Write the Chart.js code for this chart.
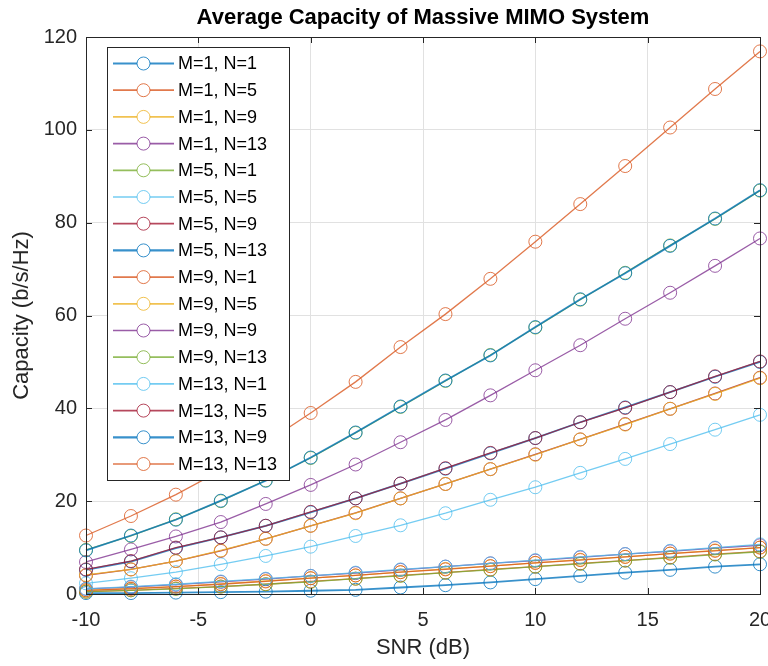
<!DOCTYPE html>
<html>
<head>
<meta charset="utf-8">
<title>Average Capacity of Massive MIMO System</title>
<script src="https://cdn.jsdelivr.net/npm/chart.js@4.4.1/dist/chart.umd.min.js"></script>
<style>
  html, body { margin: 0; padding: 0; background: #fff; }
  #wrap { width: 768px; height: 666px; }
</style>
</head>
<body>
<div id="wrap"><canvas id="capChart" width="768" height="666"></canvas></div>
<script>
// ── Data ───────────────────────────────────────────────────────
const snrDb = [-10, -8, -6, -4, -2, 0, 2, 4, 6, 8, 10, 12, 14, 16, 18, 20];

const seriesLabels = [
  'M=1, N=1', 'M=1, N=5', 'M=1, N=9', 'M=1, N=13',
  'M=5, N=1', 'M=5, N=5', 'M=5, N=9', 'M=5, N=13',
  'M=9, N=1', 'M=9, N=5', 'M=9, N=9', 'M=9, N=13',
  'M=13, N=1', 'M=13, N=5', 'M=13, N=9', 'M=13, N=13',
];

// capacity in b/s/Hz, one array per antenna configuration
const capM1N1   = [0.2, 0.2, 0.3, 0.4, 0.5, 0.7, 0.9, 1.4, 1.9, 2.5, 3.2, 3.9, 4.6, 5.2, 5.9, 6.4];
const capM1N5   = [0.5, 0.8, 1.2, 1.6, 2.1, 2.7, 3.3, 4.0, 4.6, 5.3, 5.9, 6.6, 7.2, 7.9, 8.6, 9.2];
const capM1N9   = [0.8, 1.2, 1.6, 2.2, 2.8, 3.4, 4.0, 4.7, 5.4, 6.0, 6.7, 7.4, 8.0, 8.7, 9.4, 10.0];
const capM1N13  = [1.1, 1.5, 2.0, 2.6, 3.2, 3.9, 4.5, 5.2, 5.9, 6.6, 7.2, 7.9, 8.6, 9.2, 9.9, 10.5];
const capM5N1   = [0.5, 0.8, 1.1, 1.6, 2.1, 2.6, 3.3, 3.9, 4.6, 5.2, 5.9, 6.5, 7.2, 7.8, 8.5, 9.1];
const capM5N5   = [2.3, 3.4, 4.7, 6.4, 8.2, 10.2, 12.5, 14.8, 17.4, 20.3, 23.0, 26.1, 29.1, 32.3, 35.4, 38.6];
const capM5N9   = [4.0, 5.3, 7.1, 9.3, 11.9, 14.7, 17.5, 20.6, 23.7, 26.9, 30.1, 33.3, 36.6, 39.9, 43.2, 46.6];
const capM5N13  = [5.2, 7.0, 9.9, 12.2, 14.7, 17.6, 20.6, 23.8, 27.0, 30.3, 33.6, 37.0, 40.2, 43.5, 46.8, 50.0];
const capM9N1   = [0.8, 1.1, 1.6, 2.1, 2.7, 3.4, 4.0, 4.7, 5.3, 6.0, 6.7, 7.3, 8.0, 8.7, 9.3, 10.0];
const capM9N5   = [4.1, 5.3, 7.1, 9.4, 11.9, 14.7, 17.4, 20.6, 23.7, 26.9, 30.0, 33.3, 36.5, 39.9, 43.1, 46.5];
const capM9N9   = [6.9, 9.6, 12.4, 15.5, 19.4, 23.5, 27.9, 32.7, 37.5, 42.8, 48.2, 53.6, 59.3, 64.9, 70.7, 76.6];
const capM9N13  = [9.5, 12.5, 16.1, 20.0, 24.5, 29.3, 34.7, 40.3, 45.9, 51.5, 57.4, 63.4, 69.2, 75.1, 80.8, 86.9];
const capM13N1  = [1.1, 1.6, 2.1, 2.7, 3.3, 3.9, 4.6, 5.3, 5.9, 6.6, 7.3, 8.0, 8.6, 9.3, 10.0, 10.7];
const capM13N5  = [5.3, 7.1, 10.0, 12.2, 14.7, 17.7, 20.6, 23.8, 27.1, 30.4, 33.6, 37.0, 40.1, 43.5, 46.9, 50.1];
const capM13N9  = [9.4, 12.6, 16.0, 20.1, 24.4, 29.4, 34.8, 40.4, 46.0, 51.4, 57.5, 63.5, 69.1, 75.0, 80.9, 87.0];
const capM13N13 = [12.6, 16.8, 21.4, 26.6, 32.6, 39.0, 45.7, 53.2, 60.3, 67.9, 75.9, 84.0, 92.2, 100.5, 108.8, 116.9];

const seriesValues = [
  capM1N1, capM1N5, capM1N9, capM1N13,
  capM5N1, capM5N5, capM5N9, capM5N13,
  capM9N1, capM9N5, capM9N9, capM9N13,
  capM13N1, capM13N5, capM13N9, capM13N13,
];

const yTicks = [0, 20, 40, 60, 80, 100, 120];
const xTicks = [-10, -5, 0, 5, 10, 15, 20];

// MATLAB default line colour order, cycled
const LINE_COLORS = ['#0072BD', '#D95319', '#EDB120', '#7E2F8E', '#77AC30', '#4DBEEE', '#A2142F'];
const FONT = "'Liberation Sans', Arial, Helvetica, sans-serif";
const AXIS_COLOR = '#262626';

function rgba(hex, a) {
  const n = parseInt(hex.slice(1), 16);
  return `rgba(${(n >> 16) & 255},${(n >> 8) & 255},${n & 255},${a})`;
}

// ── Plugins ────────────────────────────────────────────────────
// axes box with inward ticks on all four sides
const axesBox = {
  id: 'axesBox',
  afterDatasetsDraw(chart) {
    const { ctx, chartArea: a, scales } = chart;
    const len = 6;
    ctx.save();
    ctx.strokeStyle = AXIS_COLOR;
    ctx.lineWidth = 1;
    ctx.beginPath();
    scales.x.ticks.forEach(t => {
      const px = Math.round(scales.x.getPixelForValue(t.value)) + 0.5;
      ctx.moveTo(px, a.bottom); ctx.lineTo(px, a.bottom - len);
      ctx.moveTo(px, a.top);    ctx.lineTo(px, a.top + len);
    });
    scales.y.ticks.forEach(t => {
      const py = Math.round(scales.y.getPixelForValue(t.value)) + 0.5;
      ctx.moveTo(a.left, py);  ctx.lineTo(a.left + len, py);
      ctx.moveTo(a.right, py); ctx.lineTo(a.right - len, py);
    });
    ctx.stroke();
    ctx.strokeRect(Math.round(a.left) + 0.5, Math.round(a.top) + 0.5,
                   Math.round(a.right - a.left), Math.round(a.bottom - a.top));
    ctx.restore();
  },
};

// title centred over the axes
const axesTitle = {
  id: 'axesTitle',
  afterDraw(chart) {
    const { ctx, chartArea: a } = chart;
    ctx.save();
    ctx.fillStyle = '#000';
    ctx.font = `bold 22px ${FONT}`;
    ctx.textAlign = 'center';
    ctx.textBaseline = 'middle';
    ctx.fillText('Average Capacity of Massive MIMO System', (a.left + a.right) / 2, 18);
    ctx.restore();
  },
};

// boxed legend in the upper-left corner of the axes
const insetLegend = {
  id: 'insetLegend',
  afterDraw(chart) {
    const { ctx, chartArea: a } = chart;
    const left = a.left + 21, top = a.top + 10;
    const w = 182, rowH = 26.7;
    const h = rowH * chart.data.datasets.length + 6;
    ctx.save();
    ctx.fillStyle = '#fff';
    ctx.fillRect(left, top, w, h);
    ctx.strokeStyle = AXIS_COLOR;
    ctx.lineWidth = 1;
    ctx.strokeRect(Math.round(left) + 0.5, Math.round(top) + 0.5, w, Math.round(h));
    ctx.font = `18px ${FONT}`;
    ctx.textBaseline = 'middle';
    chart.data.datasets.forEach((ds, i) => {
      const y = top + 16.5 + i * rowH;
      ctx.strokeStyle = ds.borderColor;
      ctx.lineWidth = ds.borderWidth + 0.4;
      ctx.beginPath();
      ctx.moveTo(left + 6, y); ctx.lineTo(left + 67, y);
      ctx.stroke();
      ctx.lineWidth = 1;
      ctx.beginPath();
      ctx.fillStyle = '#fff';
      ctx.arc(left + 36.5, y, 6.5, 0, Math.PI * 2);
      ctx.fill();
      ctx.stroke();
      ctx.fillStyle = '#000';
      ctx.fillText(ds.label, left + 71, y + 1);
    });
    ctx.restore();
  },
};

// ── Chart ──────────────────────────────────────────────────────
const datasets = seriesLabels.map((label, i) => {
  const base = LINE_COLORS[i % LINE_COLORS.length];
  const col = rgba(base, 0.78);
  return {
    label,
    data: snrDb.map((x, j) => ({ x, y: seriesValues[i][j] })),
    borderColor: col,
    borderWidth: base === '#0072BD' ? 1.8 : 1.3,
    pointStyle: 'circle',
    pointRadius: 6.5,
    pointBorderWidth: 1,
    pointBorderColor: col,
    pointBackgroundColor: 'rgba(0,0,0,0)',
    tension: 0,
    clip: false,
    order: -i,   // later series painted on top
  };
});

new Chart(document.getElementById('capChart'), {
  type: 'line',
  data: { datasets },
  options: {
    responsive: false,
    devicePixelRatio: 1,
    animation: false,
    layout: { padding: { top: 37, right: 8, left: 0, bottom: 0 } },
    plugins: { legend: { display: false }, title: { display: false }, tooltip: { enabled: false } },
    scales: {
      x: {
        type: 'linear',
        min: xTicks[0],
        max: xTicks[xTicks.length - 1],
        afterBuildTicks: s => { s.ticks = xTicks.map(v => ({ value: v })); },
        afterFit: s => { s.height = 72; s.paddingLeft = 0; s.paddingRight = 0; },
        ticks: { color: AXIS_COLOR, font: { family: FONT, size: 20 }, padding: 14, maxRotation: 0 },
        grid: { color: '#e1e1e1', lineWidth: 1, drawTicks: false },
        border: { display: false },
        title: {
          display: true, text: 'SNR (dB)', color: AXIS_COLOR,
          font: { family: FONT, size: 22 }, padding: { top: 0, bottom: 5 },
        },
      },
      y: {
        type: 'linear',
        min: yTicks[0],
        max: yTicks[yTicks.length - 1],
        afterBuildTicks: s => { s.ticks = yTicks.map(v => ({ value: v })); },
        afterFit: s => { s.width = 86; s.paddingTop = 0; s.paddingBottom = 0; },
        ticks: { color: AXIS_COLOR, font: { family: FONT, size: 20 }, padding: 9 },
        grid: { color: '#e1e1e1', lineWidth: 1, drawTicks: false },
        border: { display: false },
        title: {
          display: true, text: 'Capacity (b/s/Hz)', color: AXIS_COLOR,
          font: { family: FONT, size: 22 }, padding: { top: 9, bottom: 0 },
        },
      },
    },
  },
  plugins: [axesBox, axesTitle, insetLegend],
});
</script>
</body>
</html>
